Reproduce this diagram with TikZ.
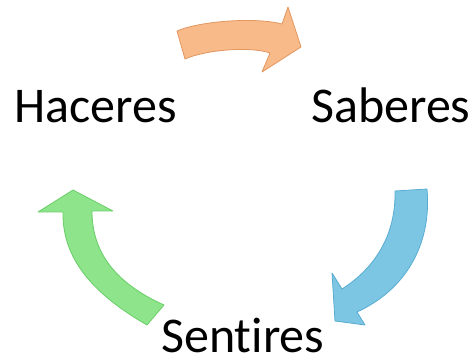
\documentclass[tikz,border=0pt]{standalone}
\usepackage{fontspec}
\setmainfont[Ligatures=NoCommon]{Carlito}
\usepackage{tikz}
\definecolor{naranja}{RGB}{248,186,136}
\definecolor{naranjaborde}{RGB}{226,150,96}
\definecolor{azul}{RGB}{124,198,228}
\definecolor{azulborde}{RGB}{88,172,208}
\definecolor{verde}{RGB}{142,228,138}
\definecolor{verdeborde}{RGB}{106,206,104}

\begin{document}
\begin{tikzpicture}[x=1pt,y=-1pt,
    palabra/.style={inner sep=0pt, anchor=base west, font=\fontsize{50}{60}\selectfont},
    flecha/.style={line width=0.8pt, line join=round}]
    \useasboundingbox (0,0) rectangle (475,358);
    %Words
    \node [palabra] (haceres) at (14,123) {Haceres};
    \node [palabra] (saberes) at (311,123) {Saberes};
    \node [palabra] (sentires) at (161,353) {Sentires};

    %Top
    \filldraw [flecha, fill=naranja, draw=naranjaborde]
        (177,31) .. controls (200,21) and (255,17) .. (282,24)
        -- (288,7) -- (301,47) -- (262,72) -- (270,53)
        .. controls (250,46) and (205,50) .. (185,59) -- cycle;

    %Right
    \filldraw [flecha, fill=azul, draw=azulborde]
        (427,189) .. controls (432,245) and (405,290) .. (357,312)
        -- (365,325) -- (335,321) -- (332,273) -- (342,289)
        .. controls (375,268) and (396,235) .. (395,191) -- cycle;

    %Left
    \filldraw [flecha, fill=verde, draw=verdeborde]
        (147,325) .. controls (95,295) and (62,260) .. (63,212)
        -- (38,212) -- (73,190) -- (113,211) -- (92,211)
        .. controls (92,252) and (115,283) .. (164,305) -- cycle;
\end{tikzpicture}
\end{document}
